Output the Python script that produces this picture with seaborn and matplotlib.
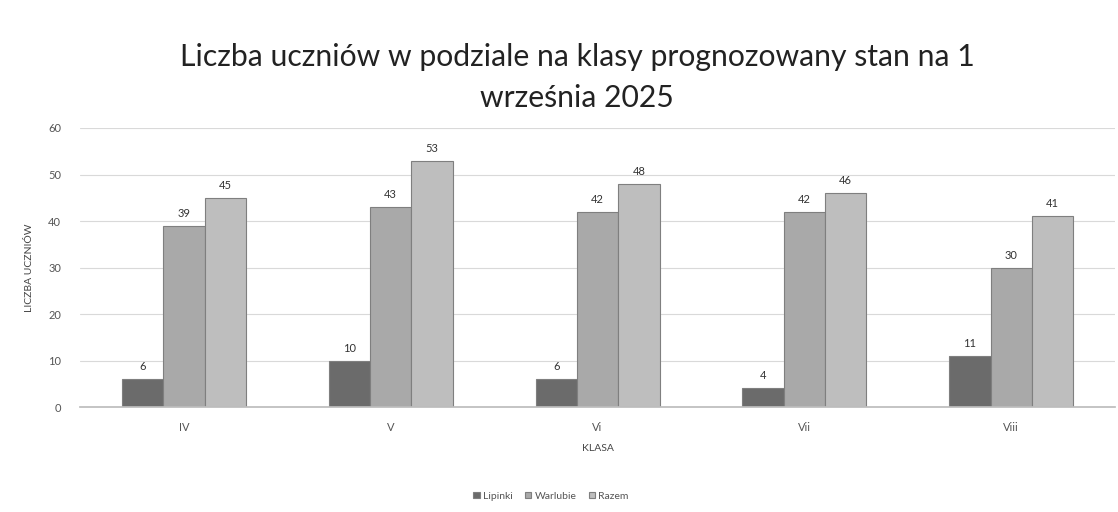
import pandas as pd
import matplotlib
matplotlib.use("Agg")
import matplotlib.pyplot as plt
import seaborn as sns

# chart data
klasy = ["IV", "V", "Vi", "Vii", "Viii"]
lipinki = [6, 10, 6, 4, 11]
warlubie = [39, 43, 42, 42, 30]
razem = [45, 53, 48, 46, 41]
serie = ["Lipinki", "Warlubie", "Razem"]
y_ticks = [0, 10, 20, 30, 40, 50, 60]

df = pd.DataFrame({
    "Klasa": klasy * 3,
    "Seria": [s for s in serie for _ in klasy],
    "Liczba": lipinki + warlubie + razem,
})

sns.set_theme(style="white")
plt.rcParams["font.family"] = ["Lato", "DejaVu Sans"]

fig = plt.figure(figsize=(11.18, 5.12), dpi=100)
ax = fig.add_axes([0.072, 0.205, 0.925, 0.545])

palette = ["#6b6b6b", "#a9a9a9", "#bebebe"]
sns.barplot(data=df, x="Klasa", y="Liczba", hue="Seria", hue_order=serie,
            order=klasy, palette=palette, width=0.6, edgecolor="#7f7f7f",
            linewidth=0.8, saturation=1, ax=ax, legend=True)

for cont in ax.containers:
    ax.bar_label(cont, padding=5, fontsize=8, color="#333333")

ax.set_ylim(0, 60)
ax.set_yticks(y_ticks)
ax.yaxis.grid(True, color="#d9d9d9", linewidth=0.8)
ax.set_axisbelow(True)
for s in ["top", "right", "left"]:
    ax.spines[s].set_visible(False)
ax.spines["bottom"].set_color("#bdbdbd")
ax.tick_params(axis="both", length=0, labelsize=8, colors="#555555")
ax.tick_params(axis="y", pad=14)
ax.tick_params(axis="x", pad=11)
ax.set_xlabel("KLASA", fontsize=7.5, color="#444444", labelpad=8)
ax.set_ylabel("LICZBA UCZNIÓW", fontsize=7.5, color="#444444", labelpad=10)

fig.text(0.516, 0.849, "Liczba uczniów w podziale na klasy prognozowany stan na 1\nwrześnia 2025",
         fontsize=21.7, color="#222222", ha="center", va="center", linespacing=1.55)

ax.legend(loc="upper center", bbox_to_anchor=(0.455, -0.27), ncol=3, frameon=False,
          fontsize=7.5, handlelength=0.6, handleheight=0.6, handletextpad=0.3,
          columnspacing=1.2, labelcolor="#555555")

fig.savefig("out.png", dpi=100)
